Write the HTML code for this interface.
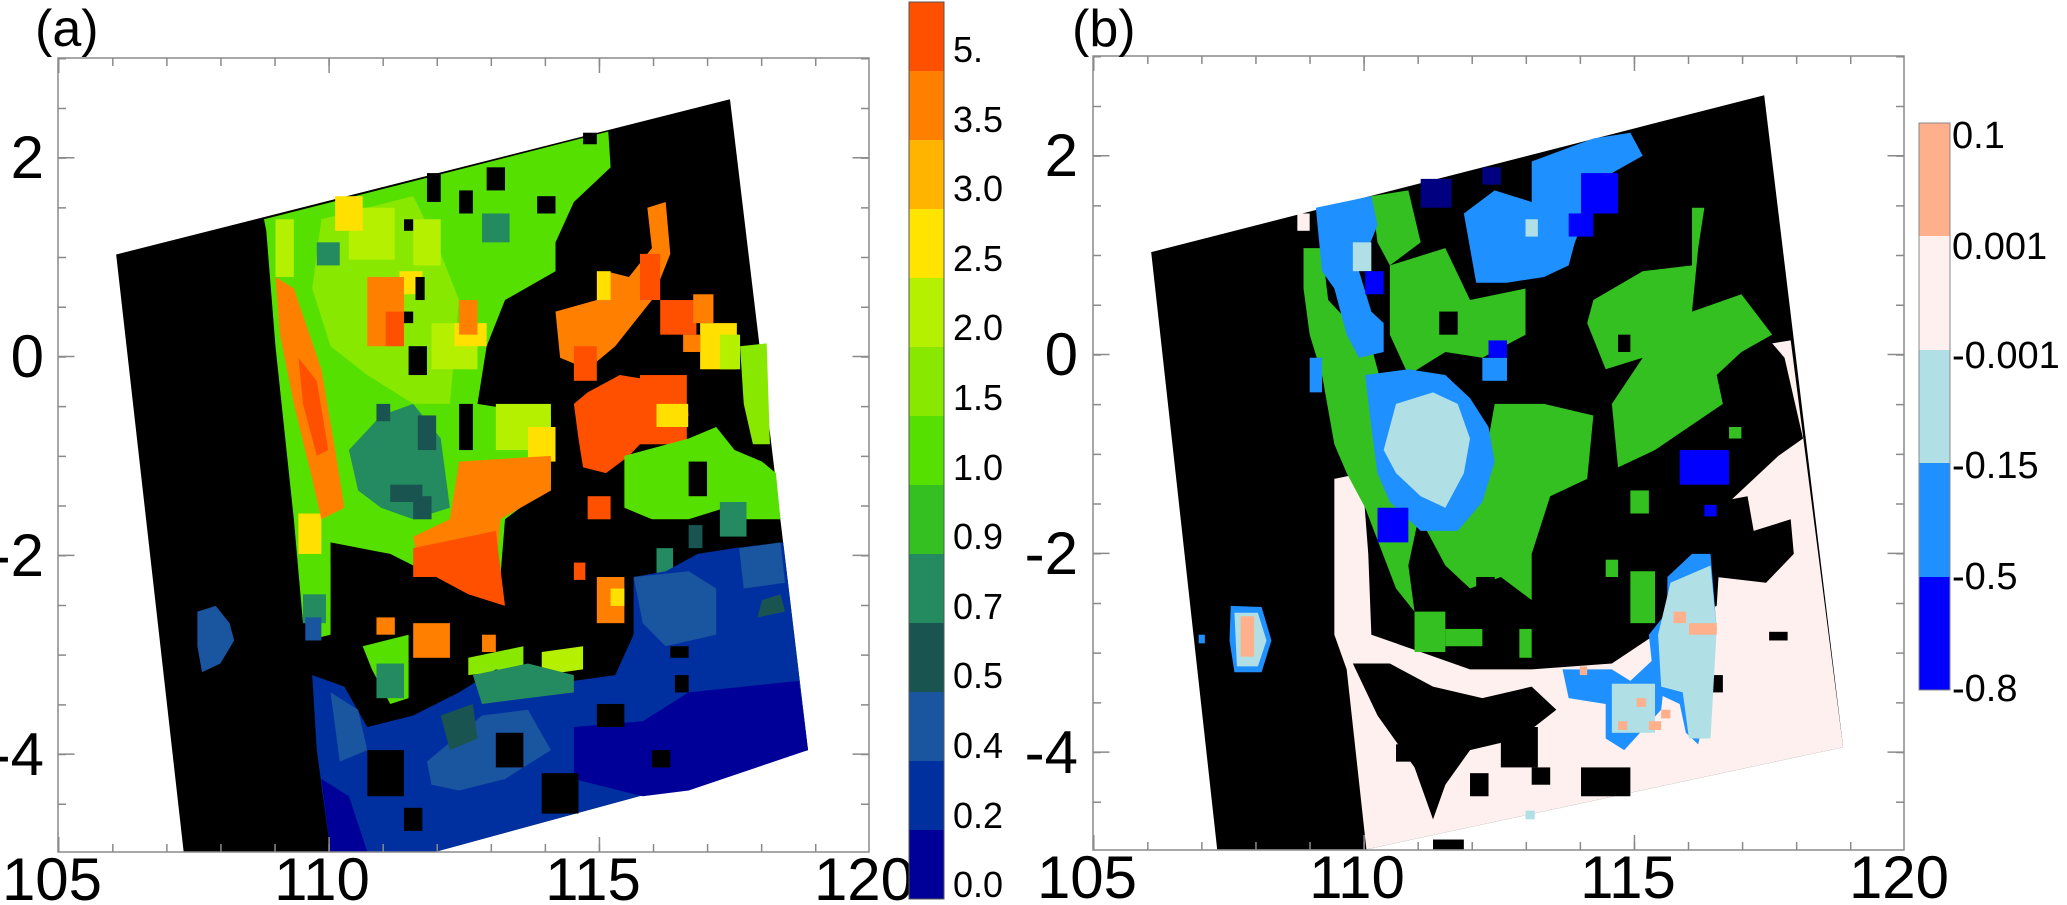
<!DOCTYPE html>
<html><head><meta charset="utf-8"><style>
html,body{margin:0;padding:0;background:#fff;}
svg{display:block;}
text{font-family:"Liberation Sans","DejaVu Sans",sans-serif;fill:#000;}
</style></head><body>
<svg width="2067" height="905" viewBox="0 0 2067 905" xmlns="http://www.w3.org/2000/svg">
<rect width="2067" height="905" fill="#fff"/>

<g transform="scale(0.4591,0.5770)">
<polygon fill="#000" points="253,441 1590,172 1760,1300 950,1476 400,1476"/>
<polygon fill="#55e000" points="575,380 1325,228 1330,290 1250,350 1210,420 1210,470 1100,520 1060,600 1040,700 1200,720 1200,840 1100,900 1090,1000 1000,1000 900,980 850,960 720,940 720,1060 660,1080 640,900 600,600 580,400"/>
<polygon fill="#88e800" points="700,380 900,340 950,420 1000,520 980,700 900,700 800,650 720,600 680,500"/>
<g fill="#b4f000"><rect x="760" y="360" width="100" height="90"/><rect x="900" y="380" width="60" height="80"/><rect x="940" y="560" width="100" height="80"/><rect x="1080" y="700" width="120" height="80"/><rect x="600" y="380" width="40" height="100"/></g>
<g fill="#ffe000"><rect x="730" y="340" width="60" height="60"/><rect x="990" y="560" width="70" height="40"/><rect x="1150" y="740" width="60" height="60"/><rect x="650" y="890" width="50" height="70"/><rect x="870" y="470" width="50" height="40"/></g>
<polygon fill="#ff8000" points="600,480 640,500 700,640 730,780 750,880 700,900 680,830 640,700 610,580"/>
<polygon fill="#ff5000" points="650,620 690,660 715,780 690,790 660,700"/>
<rect fill="#ff8000" x="800" y="480" width="80" height="120"/>
<rect fill="#ff5000" x="840" y="540" width="40" height="60"/>
<rect fill="#ff8000" x="1000" y="520" width="40" height="60"/>
<polygon fill="#ff8000" points="1000,800 1200,790 1200,850 1090,900 1080,1000 1000,1000 910,970 900,930 980,900"/>
<polygon fill="#ff5000" points="900,950 1080,920 1100,1050 1020,1030 950,1000 900,1000"/>
<polygon fill="#248a60" points="760,780 830,720 900,700 960,760 980,880 900,900 830,880 780,850"/>
<g fill="#1a5450"><rect x="850" y="840" width="70" height="30"/><rect x="900" y="860" width="40" height="40"/><rect x="910" y="720" width="40" height="60"/><rect x="820" y="700" width="30" height="30"/></g>
<rect fill="#248a60" x="1050" y="370" width="60" height="50"/>
<rect fill="#248a60" x="690" y="420" width="50" height="40"/>
<g fill="#000"><rect x="930" y="300" width="30" height="50"/><rect x="1000" y="330" width="30" height="40"/><rect x="1060" y="290" width="40" height="40"/><rect x="1170" y="340" width="40" height="30"/><rect x="880" y="380" width="20" height="20"/><rect x="905" y="480" width="20" height="40"/><rect x="880" y="540" width="20" height="20"/><rect x="890" y="600" width="40" height="50"/><rect x="1270" y="230" width="30" height="20"/><rect x="1110" y="520" width="30" height="20"/><rect x="1000" y="700" width="30" height="80"/></g>
<polygon fill="#55e000" points="650,990 720,980 720,1100 670,1110 660,1050"/>
<rect fill="#248a60" x="660" y="1030" width="50" height="50"/>
<rect fill="#1a55a0" x="665" y="1070" width="35" height="40"/>
<polygon fill="#55e000" points="790,1120 890,1100 890,1210 850,1220 810,1160"/>
<rect fill="#248a60" x="820" y="1150" width="60" height="60"/>
<polygon fill="#88e800" points="1020,1140 1140,1120 1140,1160 1020,1170"/>
<polygon fill="#b4f000" points="1180,1130 1270,1120 1270,1160 1180,1170"/>
<rect fill="#ff8000" x="900" y="1080" width="80" height="60"/>
<rect fill="#ff8000" x="1050" y="1100" width="30" height="30"/>
<rect fill="#ff8000" x="820" y="1070" width="40" height="30"/>
<rect fill="#ff8000" x="1300" y="1000" width="60" height="80"/>
<rect fill="#ffe000" x="1330" y="1020" width="30" height="30"/>
<rect fill="#ff5000" x="1250" y="975" width="25" height="30"/>
<polygon fill="#ff8000" points="1210,540 1300,520 1320,470 1370,480 1420,430 1410,360 1450,350 1460,440 1420,520 1340,600 1280,640 1220,620"/>
<polygon fill="#ff5000" points="1250,700 1280,680 1350,650 1430,660 1490,670 1500,720 1430,740 1370,790 1320,820 1270,810 1260,760"/>
<rect fill="#ff5000" x="1280" y="860" width="50" height="40"/>
<rect fill="#ff5000" x="1250" y="600" width="50" height="60"/>
<rect fill="#ffe000" x="1300" y="470" width="30" height="50"/>
<rect fill="#ff5000" x="1394" y="440" width="44" height="80"/>
<rect fill="#ff5000" x="1438" y="520" width="79" height="60"/>
<rect fill="#ff8000" x="1510" y="510" width="44" height="50"/>
<rect fill="#ffe000" x="1525" y="560" width="80" height="80"/>
<rect fill="#ff8000" x="1488" y="580" width="37" height="30"/>
<rect fill="#b4f000" x="1568" y="580" width="44" height="60"/>
<polygon fill="#88e800" points="1612,600 1670,595 1677,770 1640,770 1620,700"/>
<rect fill="#ff5000" x="1394" y="650" width="102" height="120"/>
<rect fill="#ffe000" x="1430" y="700" width="69" height="40"/>
<polygon fill="#55e000" points="1360,790 1500,760 1560,740 1600,780 1660,800 1690,820 1700,900 1600,900 1580,880 1500,900 1420,900 1360,880"/>
<rect fill="#000" x="1500" y="800" width="40" height="60"/>
<rect fill="#248a60" x="1568" y="870" width="58" height="60"/>
<rect fill="#248a60" x="1430" y="950" width="36" height="50"/>
<rect fill="#1a5450" x="1500" y="910" width="30" height="40"/>
<polygon fill="#0030a0" points="680,1170 750,1190 800,1260 900,1240 1000,1200 1080,1160 1150,1170 1250,1180 1340,1170 1380,1100 1380,1000 1450,990 1520,960 1600,950 1706,940 1760,1300 950,1476 720,1476 690,1300"/>
<polygon fill="#1a55a0" points="1380,1000 1500,990 1560,1020 1560,1100 1450,1120 1400,1080"/>
<polygon fill="#1a55a0" points="1610,950 1700,940 1710,1010 1620,1020"/>
<polygon fill="#1a55a0" points="930,1320 1050,1240 1150,1230 1200,1300 1100,1350 1000,1370 940,1360"/>
<polygon fill="#1a55a0" points="720,1200 780,1230 800,1300 740,1320"/>
<polygon fill="#248a60" points="1030,1170 1150,1150 1250,1170 1250,1200 1150,1210 1050,1220"/>
<polygon fill="#1a5450" points="960,1240 1030,1220 1040,1280 980,1300"/>
<polygon fill="#1a5450" points="1660,1040 1700,1030 1710,1060 1650,1070"/>
<polygon fill="#000098" points="700,1350 760,1380 800,1476 720,1476"/>
<polygon fill="#000098" points="1250,1260 1400,1250 1500,1200 1740,1180 1760,1300 1500,1370 1400,1380 1250,1350"/>
<g fill="#000"><rect x="800" y="1300" width="80" height="80"/><rect x="1180" y="1340" width="80" height="70"/><rect x="1080" y="1270" width="60" height="60"/><rect x="1460" y="1120" width="40" height="20"/><rect x="1470" y="1170" width="30" height="30"/><rect x="1300" y="1220" width="60" height="40"/><rect x="880" y="1400" width="40" height="40"/><rect x="1420" y="1300" width="40" height="30"/></g>
<polygon fill="#1a55a0" points="430,1060 470,1050 500,1080 510,1110 480,1150 440,1165 430,1120"/>
</g>

<g transform="translate(1100,0) scale(0.6167,0.5770)">
<polygon fill="#000" points="83,437 1077,165 1205,1295 432,1472 190,1472"/>
<polygon fill="#fdf0ee" points="1090,595 1120,590 1205,1295 432,1472 400,1160 380,1100 380,830 425,820 435,960 440,1100 520,1130 600,1160 700,1160 830,1150 900,1100 1000,1050 1010,880 1100,790 1140,760 1110,620"/>
<g fill="#000">
<polygon points="410,1150 470,1150 540,1190 620,1210 700,1190 740,1230 680,1280 600,1300 560,1360 540,1420 510,1330 450,1240"/>
<polygon points="1000,870 1050,860 1060,920 1120,900 1125,960 1080,1010 1000,1000"/>
<rect x="650" y="1260" width="60" height="70"/><rect x="780" y="1330" width="80" height="50"/><rect x="1085" y="1095" width="30" height="15"/><rect x="990" y="1170" width="20" height="30"/><rect x="540" y="1455" width="50" height="17"/><rect x="480" y="1290" width="40" height="30"/><rect x="700" y="1330" width="30" height="30"/><rect x="600" y="1340" width="30" height="40"/>
</g>
<rect fill="#fdf0ee" x="320" y="370" width="20" height="30"/>
<g fill="#33c020">
<polygon points="330,430 360,430 370,520 440,600 470,720 460,800 520,880 500,980 510,1060 480,1020 430,880 400,820 380,770 360,650 340,580 330,500"/>
<polygon points="440,340 500,330 520,420 470,460 450,420"/>
<polygon points="470,460 560,430 600,520 690,500 690,580 620,620 560,610 500,650 470,580"/>
<polygon points="640,700 720,700 800,720 790,830 730,860 700,960 700,1040 650,1000 600,1020 560,980 520,900 620,820"/>
<polygon points="800,520 880,470 960,460 960,360 980,360 970,430 960,540 1040,510 1090,580 1040,610 1000,650 1010,700 900,780 840,810 830,700 880,620 820,640 790,560"/>
<rect x="860" y="990" width="40" height="90"/><rect x="860" y="850" width="30" height="40"/><rect x="510" y="1060" width="50" height="70"/><rect x="560" y="1090" width="60" height="30"/><rect x="680" y="1090" width="20" height="50"/><rect x="820" y="970" width="20" height="30"/><rect x="1020" y="740" width="20" height="20"/>
</g>
<g fill="#000"><rect x="550" y="540" width="30" height="40"/><rect x="840" y="580" width="20" height="30"/><rect x="610" y="1000" width="30" height="30"/></g>
<g fill="#1e90ff">
<polygon points="350,360 440,340 450,390 420,470 440,540 460,560 460,610 420,620 400,580 380,500 360,470"/>
<polygon points="590,370 640,330 700,350 700,280 750,260 800,240 860,230 880,270 830,300 800,340 770,420 760,460 720,480 660,490 610,490 600,430"/>
<polygon points="430,650 500,640 560,650 600,690 630,740 640,800 620,870 580,920 520,920 470,870 450,820 440,740"/>
<polygon points="750,1160 830,1160 860,1180 900,1140 920,1130 910,1230 850,1300 820,1280 820,1220 760,1210"/>
<polygon points="920,1000 960,960 990,960 1000,1090 990,1190 970,1290 950,1270 940,1220 900,1200 890,1100 920,1060"/>
<rect x="340" y="620" width="20" height="60"/><rect x="620" y="620" width="40" height="40"/>
</g>
<g fill="#b0e0e6">
<polygon points="480,700 540,680 580,700 600,760 590,820 560,880 520,860 480,820 460,780"/>
<polygon points="925,1010 990,980 1000,1090 990,1280 955,1280 945,1200 910,1190 905,1100"/>
<rect x="830" y="1185" width="70" height="85"/><rect x="410" y="420" width="30" height="50"/><rect x="690" y="380" width="20" height="30"/>
</g>
<g fill="#0000ff"><rect x="780" y="300" width="60" height="70"/><rect x="940" y="780" width="80" height="60"/><rect x="450" y="880" width="50" height="60"/><rect x="760" y="370" width="40" height="40"/><rect x="630" y="590" width="30" height="30"/><rect x="430" y="470" width="30" height="40"/><rect x="980" y="875" width="20" height="20"/></g>
<g fill="#000080"><rect x="520" y="310" width="50" height="50"/><rect x="620" y="290" width="30" height="30"/></g>
<g fill="#fdb08b"><rect x="930" y="1060" width="20" height="20"/><rect x="955" y="1080" width="45" height="20"/><rect x="840" y="1250" width="15" height="15"/><rect x="890" y="1250" width="20" height="15"/><rect x="870" y="1210" width="15" height="15"/><rect x="778" y="1155" width="12" height="15"/><rect x="910" y="1230" width="15" height="15"/></g>
<polygon fill="#1e90ff" points="212,1050 262,1052 278,1110 262,1165 218,1165 210,1110"/>
<polygon fill="#b0e0e6" points="218,1062 256,1062 270,1110 256,1155 222,1155"/>
<rect fill="#fdb08b" x="228" y="1068" width="22" height="70"/>
<rect fill="#1e90ff" x="160" y="1100" width="10" height="15"/>
<rect fill="#b0e0e6" x="690" y="1405" width="15" height="15"/>
</g>

<g stroke="#8a8a8a" fill="none">
<rect x="58" y="58" width="811" height="794" stroke-width="1.5"/>
<line x1="58" y1="62" x2="869" y2="62" stroke-width="8" stroke-dasharray="1.5 52.57"/>
<line x1="58" y1="848" x2="869" y2="848" stroke-width="8" stroke-dasharray="1.5 52.57"/>
<line x1="58" y1="65.5" x2="869" y2="65.5" stroke-width="15" stroke-dasharray="1.5 268.85"/>
<line x1="58" y1="844.5" x2="869" y2="844.5" stroke-width="15" stroke-dasharray="1.5 268.85"/>
<line x1="62" y1="58" x2="62" y2="852" stroke-width="8" stroke-dasharray="1.5 48.2"/>
<line x1="865" y1="58" x2="865" y2="852" stroke-width="8" stroke-dasharray="1.5 48.2"/>
<line x1="66" y1="157" x2="66" y2="852" stroke-width="17" stroke-dasharray="1.5 197.3"/>
<line x1="861" y1="157" x2="861" y2="852" stroke-width="17" stroke-dasharray="1.5 197.3"/>
</g>
<g font-size="60" text-anchor="middle">
<text x="52" y="900">105</text><text x="322" y="900">110</text><text x="593" y="900">115</text><text x="864" y="900">120</text>
</g>
<g font-size="60" text-anchor="end">
<text x="44" y="178">2</text><text x="44" y="377">0</text><text x="44" y="576">-2</text><text x="44" y="775">-4</text>
</g>
<text x="35" y="46" font-size="52">(a)</text>

<g stroke="none">
<rect x="909" y="2" width="35" height="69" fill="#ff5000"/>
<rect x="909" y="71" width="35" height="69" fill="#ff8000"/>
<rect x="909" y="140" width="35" height="69" fill="#ffb400"/>
<rect x="909" y="209" width="35" height="69" fill="#ffe400"/>
<rect x="909" y="278" width="35" height="69" fill="#b4f000"/>
<rect x="909" y="347" width="35" height="69" fill="#88e800"/>
<rect x="909" y="416" width="35" height="69" fill="#55e000"/>
<rect x="909" y="485" width="35" height="69" fill="#33c020"/>
<rect x="909" y="554" width="35" height="69" fill="#248a60"/>
<rect x="909" y="623" width="35" height="69" fill="#1a5450"/>
<rect x="909" y="692" width="35" height="69" fill="#1a55a0"/>
<rect x="909" y="761" width="35" height="69" fill="#0030a0"/>
<rect x="909" y="830" width="35" height="69" fill="#000098"/>
</g>
<rect x="909" y="2" width="35" height="897" fill="none" stroke="#555" stroke-width="1"/>
<g font-size="36">
<text x="953" y="62">5.</text><text x="953" y="132">3.5</text><text x="953" y="201">3.0</text><text x="953" y="271">2.5</text><text x="953" y="340">2.0</text><text x="953" y="410">1.5</text><text x="953" y="480">1.0</text><text x="953" y="549">0.9</text><text x="953" y="619">0.7</text><text x="953" y="688">0.5</text><text x="953" y="758">0.4</text><text x="953" y="828">0.2</text><text x="953" y="897">0.0</text>
</g>

<g stroke="#8a8a8a" fill="none">
<rect x="1093" y="56" width="811" height="794" stroke-width="1.5"/>
<line x1="1093" y1="60" x2="1904" y2="60" stroke-width="8" stroke-dasharray="1.5 52.57"/>
<line x1="1093" y1="846" x2="1904" y2="846" stroke-width="8" stroke-dasharray="1.5 52.57"/>
<line x1="1093" y1="63.5" x2="1904" y2="63.5" stroke-width="15" stroke-dasharray="1.5 268.85"/>
<line x1="1093" y1="842.5" x2="1904" y2="842.5" stroke-width="15" stroke-dasharray="1.5 268.85"/>
<line x1="1097" y1="56" x2="1097" y2="850" stroke-width="8" stroke-dasharray="1.5 48.2"/>
<line x1="1900" y1="56" x2="1900" y2="850" stroke-width="8" stroke-dasharray="1.5 48.2"/>
<line x1="1101" y1="155" x2="1101" y2="850" stroke-width="17" stroke-dasharray="1.5 197.3"/>
<line x1="1896" y1="155" x2="1896" y2="850" stroke-width="17" stroke-dasharray="1.5 197.3"/>
</g>
<g font-size="60" text-anchor="middle">
<text x="1087" y="898">105</text><text x="1357" y="898">110</text><text x="1628" y="898">115</text><text x="1899" y="898">120</text>
</g>
<g font-size="60" text-anchor="end">
<text x="1078" y="176">2</text><text x="1078" y="375">0</text><text x="1078" y="574">-2</text><text x="1078" y="773">-4</text>
</g>
<text x="1072" y="46" font-size="52">(b)</text>

<rect x="1919" y="123" width="31" height="113" fill="#fdb08b"/>
<rect x="1919" y="236" width="31" height="114" fill="#fdf0ee"/>
<rect x="1919" y="350" width="31" height="113" fill="#b0e0e6"/>
<rect x="1919" y="463" width="31" height="114" fill="#1e90ff"/>
<rect x="1919" y="577" width="31" height="113" fill="#0000ff"/>
<rect x="1919" y="123" width="31" height="567" fill="none" stroke="#888" stroke-width="1"/>
<g font-size="38">
<text x="1952" y="148">0.1</text><text x="1952" y="259">0.001</text><text x="1952" y="368">-0.001</text><text x="1952" y="478">-0.15</text><text x="1952" y="589">-0.5</text><text x="1952" y="701">-0.8</text>
</g>
</svg>
</body></html>
